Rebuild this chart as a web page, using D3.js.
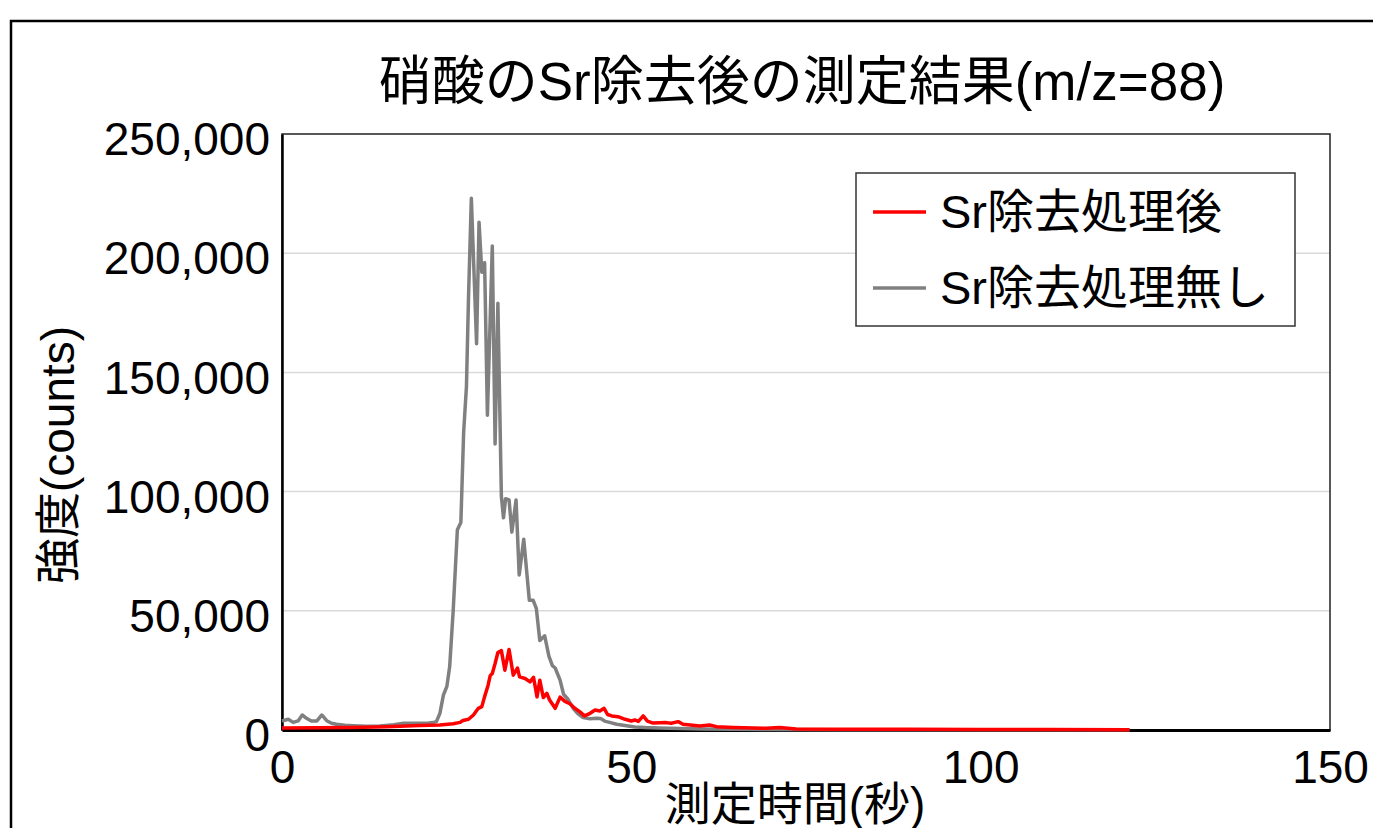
<!DOCTYPE html>
<html>
<head>
<meta charset="utf-8">
<script src="https://cdn.jsdelivr.net/npm/d3@7"></script>
<style>
  body { margin: 0; background: #fff; }
  text { font-family: "Liberation Sans", "Noto Sans CJK JP", sans-serif; fill: #000; }
</style>
</head>
<body>
<svg id="chart"></svg>
<script>
// Series (seconds, counts)
const tGray = [0, 0.9, 1.6, 2.3, 2.9, 3.5, 4.2, 5.0, 5.7, 6.4, 7.1, 7.8, 9, 10.2, 12, 14, 16, 17.4, 19.7, 21.0, 21.6, 22.1,
  22.6, 23.1, 23.6, 24.0, 24.5, 25.1, 25.6, 26.0, 26.4, 26.7, 27.1, 27.85, 28.2, 28.6, 29.0, 29.4, 30.1, 30.5, 30.9,
  31.4, 31.7, 32.0, 32.5, 32.9, 33.5, 33.95, 34.6, 35.4, 35.95, 36.4, 36.9, 37.6, 38.2, 38.7, 39.1, 39.8, 40.3, 40.9,
  41.7, 42.3, 43.1, 44.1, 45.0, 45.6, 46.3, 46.9, 47.9, 49.3, 50.5, 52.0, 54.0, 57, 60, 65, 70, 80, 90, 100, 110, 121.3];
const vGray = [3800, 4500, 3200, 3800, 6300, 4900, 3800, 3800, 6300, 3900, 2800, 2400, 2000, 1800, 1600, 1700, 2200, 2800, 2800, 2900, 3100, 3500,
  7000, 14600, 18300, 26600, 50000, 84000, 87000, 125000, 144000, 182000, 223000, 162000, 213000, 192000, 196000, 132000, 203000, 120000, 179000,
  98000, 89000, 97000, 96500, 83000, 96500, 65000, 80000, 54400, 54400, 51000, 37500, 39500, 31000, 27000, 26000, 20900, 15000, 13000,
  9000, 7000, 5200, 4700, 4900, 4800, 3600, 3200, 2400, 1800, 1300, 1000, 800, 600, 400, 300, 200, 150, 100, 100, 100, 100];

const tRed = [0, 5, 10, 15, 19.7, 22.6, 24.5, 25.5, 25.9, 26.7, 27.4, 28.1, 28.6, 29.0, 29.5, 29.8, 30.1, 30.5, 30.9, 31.4,
  31.9, 32.5, 33.1, 33.7, 34.0, 34.8, 35.5, 36.0, 36.5, 36.9, 37.4, 37.9, 38.3, 39.1, 39.8, 40.5, 41.2, 41.9, 42.6, 43.3,
  44.1, 44.8, 45.5, 46.1, 46.6, 47.2, 48.1, 49.1, 50.0, 50.5, 51.0, 51.7, 52.3, 53.1, 55.0, 55.7, 56.7, 57.4, 59.8, 61.2,
  62.2, 64.6, 69.3, 71.2, 73.6, 80, 90, 100, 110, 121.3];
const vRed = [800, 900, 1100, 1400, 1900, 2100, 2600, 3200, 4000, 4500, 6300, 9100, 9800, 14000, 18800, 22800, 23700, 27900, 32500, 33300,
  25100, 33800, 23000, 26000, 22300, 21600, 20200, 22100, 13900, 20900, 13600, 15400, 12600, 9100, 13800, 12000, 11000, 9100, 7700, 5900,
  7000, 8400, 8000, 9100, 6500, 5900, 5600, 4500, 3800, 4200, 3600, 5900, 3700, 2900, 3100, 2800, 3500, 2400, 1700, 2100,
  1400, 1100, 700, 1000, 400, 350, 300, 250, 200, 150];

const xTicks = [0, 50, 100, 150];
const yTicks = [0, 50000, 100000, 150000, 200000, 250000];
const seriesNames = ["Sr除去処理後", "Sr除去処理無し"];
const seriesColors = ["#ff0000", "#808080"];
const title = "硝酸のSr除去後の測定結果(m/z=88)";
const xTitle = "測定時間(秒)";
const yTitle = "強度(counts)";

const W = 1373, H = 828;
const plot = { left: 282, right: 1330, top: 134, bottom: 730 };

const svg = d3.select("#chart").attr("width", W).attr("height", H);

// outer frame
svg.append("rect")
  .attr("x", 11).attr("y", 21).attr("width", W + 20).attr("height", H + 20)
  .attr("fill", "none").attr("stroke", "#000").attr("stroke-width", 2.5);

const x = d3.scaleLinear().domain([0, 150]).range([plot.left, plot.right]);
const y = d3.scaleLinear().domain([0, 250000]).range([plot.bottom, plot.top]);

// gridlines
svg.append("g").selectAll("line")
  .data(yTicks.slice(1, -1))
  .enter().append("line")
  .attr("x1", plot.left).attr("x2", plot.right)
  .attr("y1", d => y(d)).attr("y2", d => y(d))
  .attr("stroke", "#d9d9d9").attr("stroke-width", 1.5);

// plot frame
svg.append("rect")
  .attr("x", plot.left).attr("y", plot.top)
  .attr("width", plot.right - plot.left).attr("height", plot.bottom - plot.top)
  .attr("fill", "none").attr("stroke", "#222").attr("stroke-width", 1.5);

// axes
const yAxis = d3.axisLeft(y).tickValues(yTicks).tickSize(0).tickPadding(12).tickFormat(d3.format(","));
const gy = svg.append("g").attr("transform", `translate(${plot.left},0)`).call(yAxis);
gy.select(".domain").attr("stroke", "#000").attr("stroke-width", 2.5);
gy.selectAll("text").style("font-size", "46px").attr("dy", "0.45em");

const xAxis = d3.axisBottom(x).tickValues(xTicks).tickSize(0).tickPadding(20);
const gx = svg.append("g").attr("transform", `translate(0,${plot.bottom})`).call(xAxis);
gx.select(".domain").attr("stroke", "#000").attr("stroke-width", 3);
gx.selectAll("text").style("font-size", "46px");

// lines
const line = d3.line().x(d => x(d[0])).y(d => y(d[1]));
const grayData = d3.zip(tGray, vGray);
const redData = d3.zip(tRed, vRed);

svg.append("path").datum(grayData)
  .attr("fill", "none").attr("stroke", seriesColors[1]).attr("stroke-width", 3.5)
  .attr("stroke-linejoin", "round").attr("d", line);
svg.append("path").datum(redData)
  .attr("fill", "none").attr("stroke", seriesColors[0]).attr("stroke-width", 3.5)
  .attr("stroke-linejoin", "round").attr("d", line);

// titles
svg.append("text").attr("x", 802).attr("y", 100).attr("text-anchor", "middle")
  .style("font-size", "53px").text(title);
svg.append("text").attr("x", 795).attr("y", 820).attr("text-anchor", "middle")
  .style("font-size", "46px").text(xTitle);
svg.append("text").attr("transform", "translate(74,455) rotate(-90)").attr("text-anchor", "middle")
  .style("font-size", "46px").text(yTitle);

// legend
const legend = svg.append("g");
legend.append("rect").attr("x", 856).attr("y", 173).attr("width", 439).attr("height", 153)
  .attr("fill", "#fff").attr("stroke", "#333").attr("stroke-width", 1.5);
seriesNames.forEach((name, i) => {
  const ly = 212 + i * 76;
  legend.append("line").attr("x1", 873).attr("x2", 926).attr("y1", ly).attr("y2", ly)
    .attr("stroke", seriesColors[i]).attr("stroke-width", 3.5);
  legend.append("text").attr("x", 940).attr("y", ly + 16).style("font-size", "47px").text(name);
});
</script>
</body>
</html>
